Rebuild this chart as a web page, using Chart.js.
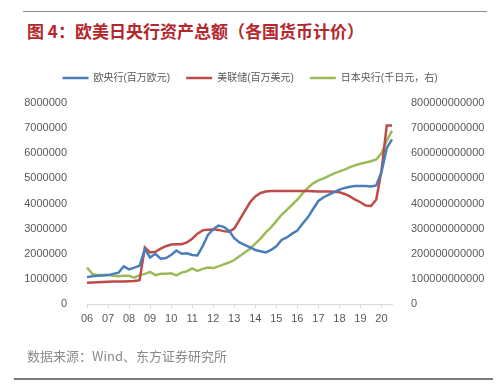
<!DOCTYPE html>
<html>
<head>
<meta charset="utf-8">
<script src="https://cdn.jsdelivr.net/npm/chart.js@4"></script>
<style>
  html, body { margin: 0; padding: 0; background: #fff; }
  #wrap { position: relative; width: 500px; height: 384px; overflow: hidden; }
  #chart { position: absolute; left: 0; top: 0; }
  .rule { position: absolute; background: #8c8c8c; }
  #title { position: absolute; left: 27px; top: 18px; font: bold 17px "Noto Sans CJK SC", sans-serif; color: #b3282d; white-space: nowrap; }
  #source { position: absolute; left: 27px; top: 346px; font: 13px "Noto Sans CJK SC", sans-serif; color: #8a8a8a; white-space: nowrap; }
</style>
</head>
<body>
<div id="wrap">
  <div class="rule" style="left:23px; top:11px; width:464px; height:1px;"></div>
  <div id="title">图 4：欧美日央行资产总额（各国货币计价）</div>
  <canvas id="chart" width="500" height="384"></canvas>
  <div id="source">数据来源：Wind、东方证券研究所</div>
  <div class="rule" style="left:14px; top:378px; width:479px; height:2px; background:#7a7a7a;"></div>
</div>
<script>
// year tick labels, quarterly points underneath (2006Q1 .. 2020Q3)
const yearLabels = ['06', '07', '08', '09', '10', '11', '12', '13', '14', '15', '16', '17', '18', '19', '20'];

// ECB, million EUR
const ecb = [
  1070000, 1100000, 1120000, 1130000, 1150000, 1200000, 1250000, 1500000,
  1380000, 1450000, 1520000, 2180000, 1850000, 2000000, 1800000, 1830000,
  1950000, 2130000, 2000000, 2020000, 1950000, 1930000, 2300000, 2750000,
  2980000, 3120000, 3070000, 2920000, 2620000, 2450000, 2350000, 2250000,
  2150000, 2100000, 2050000, 2150000, 2300000, 2550000, 2650000, 2800000,
  2920000, 3200000, 3450000, 3780000, 4100000, 4250000, 4350000, 4450000,
  4550000, 4620000, 4670000, 4700000, 4700000, 4700000, 4680000, 4720000,
  5250000, 6200000, 6550000
];

// Fed, million USD
const fed = [
  850000, 860000, 870000, 880000, 890000, 900000, 900000, 900000,
  910000, 920000, 950000, 2250000, 2050000, 2080000, 2200000, 2300000,
  2370000, 2380000, 2380000, 2450000, 2600000, 2800000, 2930000, 2960000,
  2970000, 2950000, 2900000, 2880000, 3000000, 3350000, 3700000, 4050000,
  4280000, 4420000, 4480000, 4500000, 4500000, 4500000, 4500000, 4500000,
  4500000, 4500000, 4500000, 4490000, 4480000, 4480000, 4480000, 4470000,
  4450000, 4380000, 4280000, 4150000, 4050000, 3920000, 3900000, 4150000,
  5300000, 7100000, 7100000
];

// BOJ, thousand JPY (right axis)
const boj = [
  145000000000, 120000000000, 115000000000, 115000000000, 115000000000, 112000000000, 110000000000, 112000000000,
  112000000000, 105000000000, 115000000000, 120000000000, 128000000000, 115000000000, 120000000000, 120000000000,
  122000000000, 114000000000, 125000000000, 130000000000, 142000000000, 132000000000, 140000000000, 145000000000,
  143000000000, 150000000000, 158000000000, 165000000000, 175000000000, 190000000000, 205000000000, 220000000000,
  240000000000, 260000000000, 285000000000, 305000000000, 330000000000, 355000000000, 375000000000, 395000000000,
  415000000000, 440000000000, 462000000000, 480000000000, 492000000000, 500000000000, 510000000000, 520000000000,
  528000000000, 535000000000, 545000000000, 552000000000, 558000000000, 563000000000, 568000000000, 575000000000,
  600000000000, 650000000000, 690000000000
];

const categories = [];
yearLabels.forEach((y, i) => {
  const n = i === yearLabels.length - 1 ? 3 : 4;
  for (let q = 1; q <= n; q++) categories.push(y + 'Q' + q);
});

const FONT = '"Liberation Sans", "Noto Sans CJK SC", sans-serif';
Chart.defaults.font.family = FONT;
Chart.defaults.font.size = 11;
Chart.defaults.color = '#595959';

// extra room under the legend
const legendGap = {
  id: 'legendGap',
  beforeInit(chart) {
    const fitFn = chart.legend.fit;
    chart.legend.fit = function () {
      fitFn.call(this);
      this.height += 10;
    };
  },
};

new Chart(document.getElementById('chart'), {
  type: 'line',
  data: {
    labels: categories,
    datasets: [
      { label: '欧央行(百万欧元)', data: ecb, borderColor: '#4a7ebb', yAxisID: 'y' },
      { label: '美联储(百万美元)', data: fed, borderColor: '#be4b48', yAxisID: 'y' },
      { label: '日本央行(千日元，右)', data: boj, borderColor: '#9bbb59', yAxisID: 'y2' },
    ].map((d) => ({ ...d, backgroundColor: d.borderColor, borderWidth: 2.5, pointRadius: 0, tension: 0 })),
  },
  plugins: [legendGap],
  options: {
    animation: false,
    responsive: false,
    layout: { padding: { top: 57, bottom: 0, left: 0, right: 0 } },
    plugins: {
      tooltip: { enabled: false },
      legend: {
        labels: {
          usePointStyle: true,
          pointStyle: 'line',
          pointStyleWidth: 26,
          padding: 16,
          font: { size: 10 },
          color: '#595959',
        },
      },
    },
    scales: {
      x: {
        offset: false,
        border: { color: '#d9d9d9' },
        grid: {
          drawOnChartArea: false,
          tickLength: 4,
          color: (ctx) => (ctx.index % 4 === 0 ? '#d9d9d9' : 'rgba(0,0,0,0)'),
        },
        ticks: {
          autoSkip: false,
          maxRotation: 0,
          padding: 4,
          callback: (val, idx) => (idx % 4 === 0 ? yearLabels[idx / 4] : ''),
        },
        afterFit: (s) => { s.height = 80; },
      },
      y: {
        position: 'left',
        min: 0,
        max: 8000000,
        border: { display: false },
        grid: { display: false },
        ticks: { stepSize: 1000000, padding: 12, callback: (v) => String(v) },
        afterFit: (s) => { s.width = 87; },
      },
      y2: {
        position: 'right',
        min: 0,
        max: 800000000000,
        border: { display: false },
        grid: { display: false },
        ticks: { stepSize: 100000000000, padding: 11, callback: (v) => String(v) },
        afterFit: (s) => { s.width = 108; },
      },
    },
  },
});
</script>
</body>
</html>
